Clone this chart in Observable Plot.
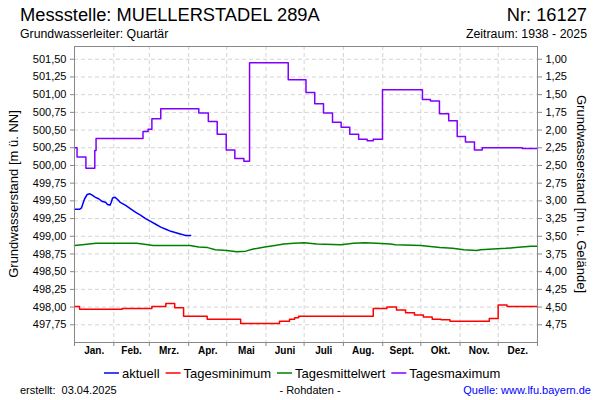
<!DOCTYPE html>
<html><head><meta charset="utf-8">
<script src="https://cdn.jsdelivr.net/npm/d3@7"></script>
<script src="https://cdn.jsdelivr.net/npm/@observablehq/plot@0.6"></script>
<style>body{margin:0;background:#fff}</style>
</head><body><div id="chart"></div>
<script>
const monthNames = ["Jan.","Feb.","Mrz.","Apr.","Mai","Juni","Juli","Aug.","Sept.","Okt.","Nov.","Dez."];
const monthStarts = [0,31,59,90,120,151,181,212,243,273,304,334,365];
const yTicks = [497.75,498,498.25,498.5,498.75,499,499.25,499.5,499.75,500,500.25,500.5,500.75,501,501.25,501.5];
const groundLevel = 502.5;

const aktuellDays = [0,4,5.5,7,8,10,12,14,16.5,19,22,24.5,26,28,29,30,32,34,36,40,44,48,52,56,60,64,68,72,76,80,84,87.5,91.5];
const aktuellVals = [499.38,499.38,499.40,499.48,499.53,499.59,499.60,499.58,499.55,499.53,499.49,499.48,499.45,499.44,499.48,499.54,499.55,499.52,499.48,499.44,499.39,499.34,499.30,499.25,499.21,499.17,499.13,499.10,499.07,499.05,499.03,499.01,499.01];

const minDays = [0,4,37.6,61,72,79,86,104.6,131,161.6,169.5,173.5,176.7,235.5,246.3,253.8,261,268,275,282,289,296,327,334,341,365];
const minVals = [498.01,497.97,497.98,498.01,498.05,497.99,497.87,497.83,497.77,497.80,497.83,497.85,497.87,497.98,498.00,497.96,497.92,497.89,497.86,497.83,497.82,497.80,497.84,498.03,498.01,498.01];

const meanDays = [0,6,17,49,58,62,91,98,105,111,120,128,135,141,150,158,165,173,181,191,210,220,229,238,249,253,273,288,298,307,317,320,340,350,360,365];
const meanVals = [498.87,498.88,498.90,498.90,498.88,498.87,498.87,498.85,498.84,498.81,498.80,498.78,498.79,498.82,498.85,498.87,498.89,498.90,498.91,498.89,498.88,498.90,498.91,498.90,498.89,498.88,498.87,498.84,498.83,498.81,498.80,498.81,498.83,498.845,498.86,498.86];

const maxDays = [0,2,9,16,17,54,58,61,68,98,105.5,112.5,119.6,126.4,133.5,138,168.5,182.5,189.4,196.3,203.4,210.2,217,224,230.7,235.5,242.8,274.3,280.6,287.7,295,301.7,308.2,315.3,321.4,353,365];
const maxVals = [500.25,500.12,499.96,500.21,500.38,500.48,500.51,500.66,500.80,500.74,500.62,500.44,500.22,500.10,500.06,501.45,501.21,501.03,500.87,500.74,500.61,500.54,500.44,500.37,500.35,500.37,501.07,500.93,500.91,500.73,500.63,500.41,500.33,500.22,500.25,500.24,500.24];

const series = [
  {name: "aktuell", color: "#0000ff", days: aktuellDays, vals: aktuellVals, curve: "linear"},
  {name: "Tagesminimum", color: "#ff0000", days: minDays, vals: minVals, curve: "step-after"},
  {name: "Tagesmittelwert", color: "#008000", days: meanDays, vals: meanVals, curve: "linear"},
  {name: "Tagesmaximum", color: "#8000ff", days: maxDays, vals: maxVals, curve: "step-after"}
];
const toRows = s => s.days.map((d, i) => ({day: d, value: s.vals[i]}));
const fmt = v => v.toFixed(2).replace(".", ",");
const FONT = "'Liberation Sans', Arial, sans-serif";

const chart = Plot.plot({
  width: 600, height: 400,
  marginTop: 46, marginBottom: 58, marginLeft: 74, marginRight: 63,
  style: {fontFamily: FONT, fontSize: "11px", background: "#fff", color: "#000"},
  x: {domain: [0, 365], axis: null},
  y: {domain: [497.5, 501.68], axis: null},
  marks: [
    Plot.gridY(yTicks, {stroke: "#d4d4d4", strokeOpacity: 1, strokeDasharray: "4,3"}),
    Plot.gridX(monthStarts.slice(1, -1), {stroke: "#d4d4d4", strokeOpacity: 1, strokeDasharray: "4,3"}),
    Plot.axisY(yTicks, {anchor: "left", tickSize: 4, tickPadding: 4, tickFormat: fmt, label: null, stroke: "#888"}),
    Plot.axisY(yTicks, {anchor: "right", tickSize: 4, tickPadding: 4, tickFormat: v => fmt(groundLevel - v), label: null, stroke: "#888"}),
    Plot.axisX(monthStarts, {anchor: "bottom", tickSize: 4, tickFormat: () => "", label: null, stroke: "#888"}),
    Plot.text(monthNames, {x: (d, i) => (monthStarts[i] + monthStarts[i + 1]) / 2, text: d => d, frameAnchor: "bottom", dy: 11, fontWeight: "bold", fontSize: 10}),
    ...series.map(s => Plot.line(toRows(s), {x: "day", y: "value", stroke: s.color, strokeWidth: 1.5, curve: s.curve})),
    Plot.frame({stroke: "#888"})
  ]
});
document.getElementById("chart").append(chart);

const svg = d3.select(chart);
const addText = (x, y, txt, opts = {}) => svg.append("text")
  .attr("x", x).attr("y", y).text(txt)
  .attr("font-family", FONT)
  .attr("font-size", opts.size || 11)
  .attr("text-anchor", opts.anchor || "start")
  .attr("fill", opts.fill || "#000")
  .attr("transform", opts.rotate ? `rotate(${opts.rotate},${x},${y})` : null);

addText(20, 21, "Messstelle: MUELLERSTADEL 289A", {size: 18.3});
addText(587, 21, "Nr: 16127", {size: 18.3, anchor: "end"});
addText(20, 38, "Grundwasserleiter: Quartär", {size: 12.3});
addText(587, 38, "Zeitraum: 1938 - 2025", {size: 12.3, anchor: "end"});
addText(18, 194, "Grundwasserstand [m ü. NN]", {size: 13, anchor: "middle", rotate: -90});
addText(577, 194, "Grundwasserstand [m u. Gelände]", {size: 13, anchor: "middle", rotate: 90});

// legend
let lx = 104;
series.forEach(s => {
  svg.append("line").attr("x1", lx).attr("x2", lx + 15).attr("y1", 373).attr("y2", 373)
    .attr("stroke", s.color).attr("stroke-width", 1.5);
  const t = addText(lx + 18, 378, s.name, {size: 13});
  lx += 18 + t.node().getComputedTextLength() + 6;
});

addText(20, 394, "erstellt:  03.04.2025", {size: 11}).attr("xml:space", "preserve").style("white-space", "pre");
addText(310, 394, "- Rohdaten -", {size: 11, anchor: "middle"});
addText(591, 394, "Quelle: www.lfu.bayern.de", {size: 11, anchor: "end", fill: "#0000ff"});
</script>
</body></html>
